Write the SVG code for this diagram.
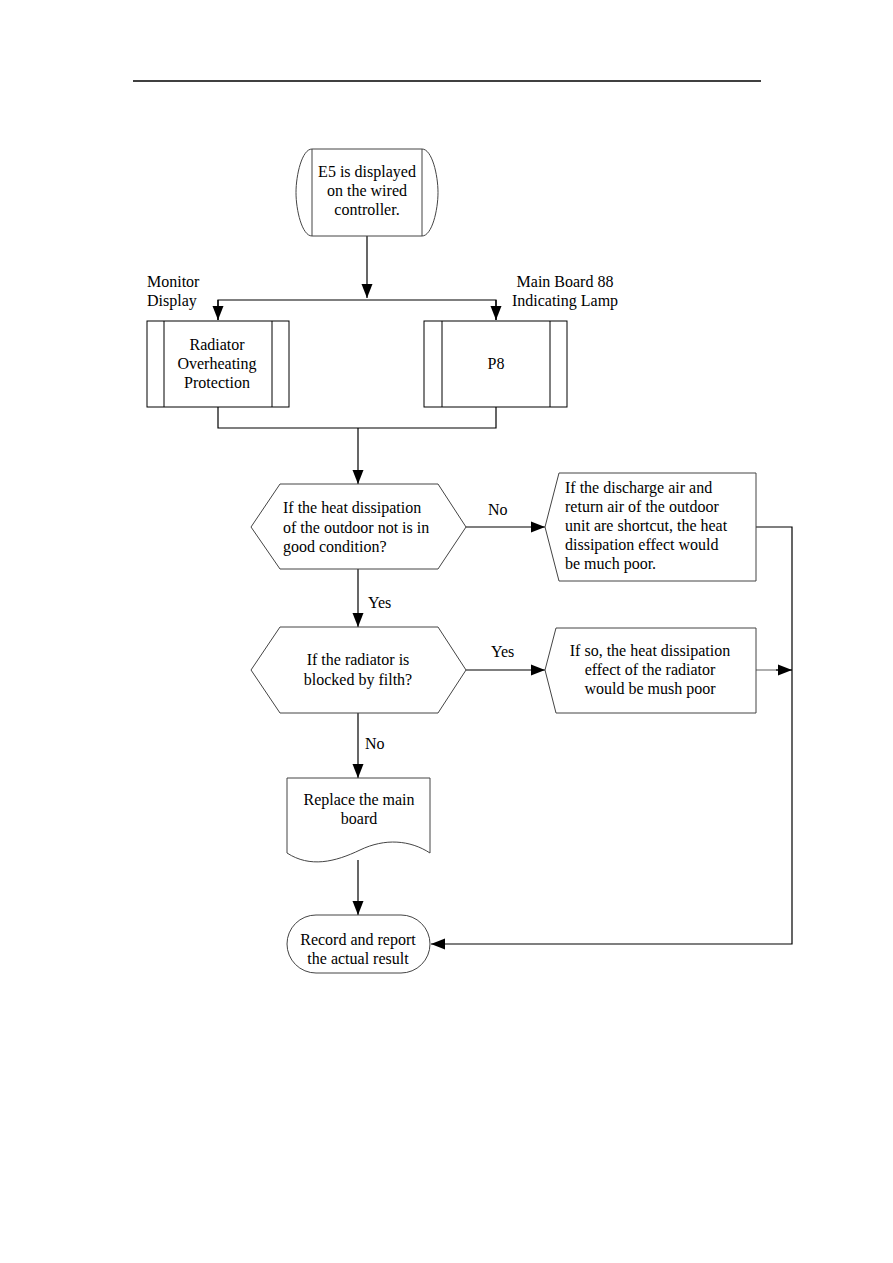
<svg xmlns="http://www.w3.org/2000/svg" width="893" height="1263" viewBox="0 0 893 1263">
<style>
text{font-family:"Liberation Serif","Times New Roman",serif;font-size:16px;fill:#000}
.c{text-anchor:middle}
.shape{fill:#fff;stroke:#444;stroke-width:1}
.box{fill:#fff;stroke:#000;stroke-width:1}
.ln{fill:none;stroke:#000;stroke-width:1.2}
.gl{fill:none;stroke:#777;stroke-width:1.2}
</style>
<defs>
<marker id="ah" markerUnits="userSpaceOnUse" markerWidth="16" markerHeight="12" refX="14" refY="6" orient="auto">
<path d="M0,0.5 L14,6 L0,11.5 Z" fill="#000"/>
</marker>
</defs>
<rect width="893" height="1263" fill="#fff"/>
<line x1="133" y1="81" x2="761" y2="81" stroke="#000" stroke-width="1.5"/>

<g id="connectors">
<path class="ln" d="M367,236 L367,298" marker-end="url(#ah)"/>
<path class="ln" d="M218,320 L218,300 L496,300 L496,320"/>
<path class="ln" d="M218,300 L218,320" marker-end="url(#ah)"/>
<path class="ln" d="M496,300 L496,320" marker-end="url(#ah)"/>
<path class="ln" d="M218,407 L218,428 L496,428 L496,407"/>
<path class="ln" d="M358,428 L358,484" marker-end="url(#ah)"/>
<path class="ln" d="M466,527 L545,527" marker-end="url(#ah)"/>
<path class="ln" d="M358,569 L358,627" marker-end="url(#ah)"/>
<path class="ln" d="M466,670 L545,670" marker-end="url(#ah)"/>
<path class="ln" d="M358,713 L358,778" marker-end="url(#ah)"/>
<path class="ln" d="M358,860 L358,915" marker-end="url(#ah)"/>
<path class="ln" d="M756,527 L792,527 L792,944 L431,944" marker-end="url(#ah)"/>
<path class="gl" d="M756,670 L780,670"/>
<path class="ln" d="M776,670 L792,670" marker-end="url(#ah)"/>
<text x="488" y="515">No</text>
<text x="368" y="608">Yes</text>
<text x="491" y="657">Yes</text>
<text x="365" y="749">No</text>
</g>

<g id="start">
<path class="shape" d="M312,149 L422,149 C432,149 438,175 438,192.5 C438,210 432,236 422,236 L312,236 C302,236 296,210 296,192.5 C296,175 302,149 312,149 Z"/>
<line class="shape" x1="312" y1="149" x2="312" y2="236"/>
<line class="shape" x1="422" y1="149" x2="422" y2="236"/>
<text class="c" x="367" y="177">E5 is displayed</text>
<text class="c" x="367" y="196">on the wired</text>
<text class="c" x="367" y="215">controller.</text>
</g>

<g id="label-monitor">
<text x="147" y="287">Monitor</text>
<text x="147" y="306">Display</text>
</g>
<g id="label-mainboard">
<text class="c" x="565" y="287">Main Board 88</text>
<text class="c" x="565" y="306">Indicating Lamp</text>
</g>

<g id="radiator-protection">
<rect class="box" x="147" y="321" width="142" height="86"/>
<line class="box" x1="164" y1="321" x2="164" y2="407"/>
<line class="box" x1="272" y1="321" x2="272" y2="407"/>
<text class="c" x="217" y="350">Radiator</text>
<text class="c" x="217" y="369">Overheating</text>
<text class="c" x="217" y="388">Protection</text>
</g>

<g id="p8">
<rect class="box" x="424" y="321" width="143" height="86"/>
<line class="box" x1="442" y1="321" x2="442" y2="407"/>
<line class="box" x1="550" y1="321" x2="550" y2="407"/>
<text class="c" x="496" y="369">P8</text>
</g>

<g id="decision1">
<path class="shape" d="M251,527 L280,484 L438,484 L466,527 L438,569 L280,569 Z"/>
<text x="283" y="513">If the heat dissipation</text>
<text x="283" y="533">of the outdoor not is in</text>
<text x="283" y="552">good condition?</text>
</g>

<g id="shortcut">
<path class="shape" d="M559,473 L756,473 L756,581 L559,581 L545,527 Z"/>
<text x="565" y="493">If the discharge air and</text>
<text x="565" y="512">return air of the outdoor</text>
<text x="565" y="531">unit are shortcut, the heat</text>
<text x="565" y="550">dissipation effect would</text>
<text x="565" y="569">be much poor.</text>
</g>

<g id="decision2">
<path class="shape" d="M251,670 L280,627 L438,627 L466,670 L438,713 L280,713 Z"/>
<text class="c" x="358" y="665">If the radiator is</text>
<text class="c" x="358" y="685">blocked by filth?</text>
</g>

<g id="filth">
<path class="shape" d="M556,628 L756,628 L756,713 L556,713 L545,670 Z"/>
<text class="c" x="650" y="656">If so, the heat dissipation</text>
<text class="c" x="650" y="675">effect of the radiator</text>
<text class="c" x="650" y="694">would be mush poor</text>
</g>

<g id="replace-board">
<path class="shape" d="M287,778 L430,778 L430,853 C410,840 385,838 360,850 C335,862 310,868 287,853 Z"/>
<text class="c" x="359" y="805">Replace the main</text>
<text class="c" x="359" y="824">board</text>
</g>

<g id="record">
<rect class="shape" x="287" y="915" width="143" height="58" rx="29" ry="29"/>
<text class="c" x="358" y="945">Record and report</text>
<text class="c" x="358" y="964">the actual result</text>
</g>
</svg>
